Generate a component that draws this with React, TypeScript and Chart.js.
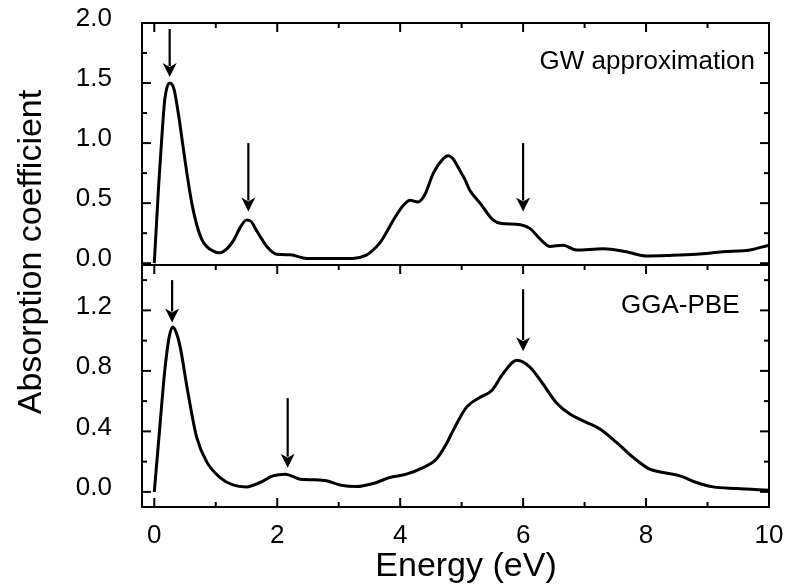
import React, { useEffect, useRef } from "react";
import { Chart, registerables } from "chart.js";

Chart.register(...registerables);

// ---- data ----
const energyGW = [0, 0.07, 0.12, 0.17, 0.25, 0.32, 0.39, 0.46, 0.53, 0.61, 0.69, 0.77, 0.85, 0.96, 1.06, 1.18, 1.29, 1.39, 1.5, 1.58, 1.66, 1.75, 1.83, 1.99, 2.21, 2.48, 2.91, 3.23, 3.45, 3.56, 3.67, 3.78, 3.89, 4.05, 4.16, 4.29, 4.4, 4.54, 4.7, 4.78, 4.86, 4.94, 5.05, 5.13, 5.3, 5.51, 5.65, 5.89, 6.11, 6.27, 6.43, 6.65, 6.87, 7.3, 7.68, 8.01, 8.39, 8.82, 9.25, 9.69, 10.0];
const absorptionGW = [0, 0.64, 1.03, 1.36, 1.5, 1.45, 1.25, 1.0, 0.75, 0.5, 0.32, 0.2, 0.14, 0.1, 0.086, 0.12, 0.19, 0.29, 0.36, 0.345, 0.275, 0.2, 0.14, 0.075, 0.07, 0.04, 0.04, 0.04, 0.067, 0.11, 0.17, 0.26, 0.36, 0.48, 0.525, 0.51, 0.57, 0.75, 0.87, 0.895, 0.87, 0.8, 0.7, 0.61, 0.5, 0.36, 0.33, 0.325, 0.29, 0.205, 0.14, 0.15, 0.11, 0.12, 0.095, 0.06, 0.065, 0.075, 0.095, 0.11, 0.15];

const energyPBE = [0, 0.09, 0.17, 0.24, 0.3, 0.36, 0.42, 0.55, 0.69, 0.85, 1.07, 1.28, 1.5, 1.72, 1.93, 2.13, 2.37, 2.59, 2.8, 3.02, 3.29, 3.56, 3.83, 4.1, 4.37, 4.59, 4.75, 4.86, 5.08, 5.3, 5.49, 5.67, 5.9, 6.11, 6.32, 6.54, 6.76, 7.03, 7.25, 7.52, 7.79, 8.06, 8.28, 8.55, 8.82, 9.09, 9.47, 10.0];
const absorptionPBE = [0, 0.43, 0.8, 1.02, 1.09, 1.05, 0.96, 0.65, 0.36, 0.2, 0.095, 0.046, 0.033, 0.062, 0.106, 0.117, 0.084, 0.08, 0.073, 0.046, 0.035, 0.055, 0.095, 0.117, 0.16, 0.217, 0.316, 0.405, 0.56, 0.625, 0.67, 0.78, 0.87, 0.825, 0.715, 0.59, 0.515, 0.46, 0.416, 0.327, 0.228, 0.15, 0.128, 0.106, 0.062, 0.033, 0.022, 0.011];

const xTickValues = [0, 2, 4, 6, 8, 10];
const xMinorTickValues = [1, 3, 5, 7, 9];
const yTopTickValues = [0, 0.5, 1.0, 1.5, 2.0];
const yTopMinorTickValues = [0.25, 0.75, 1.25, 1.75];
const yBottomTickValues = [0, 0.4, 0.8, 1.2];
const yBottomMinorTickValues = [0.2, 0.6, 1.0, 1.4];

// arrows (data coordinates): energy, start value, tip value
const arrowGWEnergy = [0.25, 1.53, 6.0];
const arrowGWFrom = [1.95, 1.0, 1.0];
const arrowGWTo = [1.55, 0.43, 0.43];
const arrowPBEEnergy = [0.29, 2.17, 6.0];
const arrowPBEFrom = [1.4, 0.62, 1.34];
const arrowPBETo = [1.12, 0.16, 0.93];

const labelGW = "GW approximation";
const labelGWPos = [9.77, 1.62];
const labelPBE = "GGA-PBE";
const labelPBEPos = [9.52, 1.18];

const xTitle = "Energy (eV)";
const yTitle = "Absorption coefficient";

const FONT = "'Liberation Sans', Arial, Helvetica, sans-serif";

const overlayPlugin = {
  id: "overlay",
  afterDatasetsDraw(chart: any) {
    const ctx = chart.ctx;
    const xs = chart.scales.x;
    const yt = chart.scales.yTop;
    const yb = chart.scales.yBottom;
    const L = chart.chartArea.left;
    const R = chart.chartArea.right;
    ctx.save();
    ctx.strokeStyle = "#000";
    ctx.fillStyle = "#000";
    ctx.lineWidth = 2;
    ctx.lineCap = "butt";
    // frames
    ctx.strokeRect(L, yt.top, R - L, yt.bottom - yt.top);
    ctx.strokeRect(L, yb.top, R - L, yb.bottom - yb.top);

    const seg = (x1: number, y1: number, x2: number, y2: number) => {
      ctx.beginPath();
      ctx.moveTo(x1, y1);
      ctx.lineTo(x2, y2);
      ctx.stroke();
    };
    const MAJ = 9;
    const MIN = 5;
    // y ticks
    const yTicks = (scale: any, major: number[], minor: number[]) => {
      major.forEach((v) => {
        const p = scale.getPixelForValue(v);
        seg(L, p, L + MAJ, p);
        seg(R, p, R - MAJ, p);
      });
      minor.forEach((v) => {
        const p = scale.getPixelForValue(v);
        seg(L, p, L + MIN, p);
        seg(R, p, R - MIN, p);
      });
    };
    yTicks(yt, yTopTickValues, yTopMinorTickValues);
    yTicks(yb, yBottomTickValues, yBottomMinorTickValues);
    // x ticks
    const xTicks = (yEdge: number, dir: number) => {
      xTickValues.forEach((v) => {
        const p = xs.getPixelForValue(v);
        seg(p, yEdge, p, yEdge + dir * MAJ);
      });
      xMinorTickValues.forEach((v) => {
        const p = xs.getPixelForValue(v);
        seg(p, yEdge, p, yEdge + dir * MIN);
      });
    };
    xTicks(yt.top, 1);
    xTicks(yb.top, 1);
    xTicks(yb.bottom, -1);

    // arrows
    const arrow = (scale: any, e: number, from: number, to: number) => {
      const px = xs.getPixelForValue(e);
      const y1 = scale.getPixelForValue(from);
      const y2 = scale.getPixelForValue(to);
      const headLen = 14;
      const headW = 7;
      ctx.lineWidth = 2.2;
      seg(px, y1, px, y2 - headLen + 3);
      ctx.beginPath();
      ctx.moveTo(px, y2);
      ctx.lineTo(px - headW, y2 - headLen);
      ctx.lineTo(px, y2 - headLen + 4);
      ctx.lineTo(px + headW, y2 - headLen);
      ctx.closePath();
      ctx.fill();
    };
    arrowGWEnergy.forEach((e, i) => arrow(yt, e, arrowGWFrom[i], arrowGWTo[i]));
    arrowPBEEnergy.forEach((e, i) => arrow(yb, e, arrowPBEFrom[i], arrowPBETo[i]));

    // panel labels
    ctx.font = `26px ${FONT}`;
    ctx.textAlign = "right";
    ctx.textBaseline = "alphabetic";
    ctx.fillText(labelGW, xs.getPixelForValue(labelGWPos[0]), yt.getPixelForValue(labelGWPos[1]));
    ctx.fillText(labelPBE, xs.getPixelForValue(labelPBEPos[0]), yb.getPixelForValue(labelPBEPos[1]));

    // axis titles
    ctx.font = `34px ${FONT}`;
    ctx.textAlign = "center";
    ctx.textBaseline = "alphabetic";
    ctx.fillText(xTitle, 466, 576);
    ctx.save();
    ctx.translate(41, 252);
    ctx.rotate(-Math.PI / 2);
    ctx.fillText(yTitle, 0, 0);
    ctx.restore();
    ctx.restore();
  },
};

function yAxis(min: number, max: number, ticks: number[]) {
  return {
    type: "linear" as const,
    position: "left" as const,
    stack: "panels",
    stackWeight: 1,
    min,
    max,
    grid: { display: false, drawTicks: false },
    border: { display: false },
    afterBuildTicks: (s: any) => {
      s.ticks = ticks.map((v) => ({ value: v }));
    },
    afterFit: (s: any) => {
      s.width = 142;
      s.paddingTop = 0;
      s.paddingBottom = 0;
    },
    ticks: {
      autoSkip: false,
      color: "#000",
      font: { family: FONT, size: 26 },
      padding: 30,
      labelOffset: -4,
      callback: (v: any) => Number(v).toFixed(1),
    },
  };
}

export default function App() {
  const ref = useRef<HTMLCanvasElement | null>(null);
  useEffect(() => {
    if (!ref.current) return;
    const chart = new Chart(ref.current, {
      type: "line",
      data: {
        datasets: [
          {
            label: labelGW,
            data: energyGW.map((x, i) => ({ x, y: absorptionGW[i] })),
            yAxisID: "yTop",
            borderColor: "#000",
            borderWidth: 3,
            pointRadius: 0,
            fill: false,
            cubicInterpolationMode: "monotone",
          },
          {
            label: labelPBE,
            data: energyPBE.map((x, i) => ({ x, y: absorptionPBE[i] })),
            yAxisID: "yBottom",
            borderColor: "#000",
            borderWidth: 3,
            pointRadius: 0,
            fill: false,
            cubicInterpolationMode: "monotone",
          },
        ],
      },
      options: {
        responsive: false,
        animation: false,
        devicePixelRatio: 1,
        layout: { padding: { left: 0, top: 23, right: 18, bottom: 0 } },
        plugins: { legend: { display: false }, tooltip: { enabled: false } },
        scales: {
          x: {
            type: "linear",
            position: "bottom",
            min: -0.2,
            max: 10,
            grid: { display: false, drawTicks: false },
            border: { display: false },
            afterBuildTicks: (s: any) => {
              s.ticks = xTickValues.map((v) => ({ value: v }));
            },
            afterFit: (s: any) => {
              s.height = 79;
              s.paddingLeft = 0;
              s.paddingRight = 0;
            },
            ticks: {
              autoSkip: false,
              maxRotation: 0,
              color: "#000",
              font: { family: FONT, size: 26 },
              padding: 13,
              callback: (v: any) => String(v),
            },
          },
          yBottom: yAxis(-0.1, 1.5, yBottomTickValues),
          yTop: yAxis(-0.015, 2.0, yTopTickValues),
        } as any,
      },
      plugins: [overlayPlugin],
    } as any);
    return () => chart.destroy();
  }, []);
  return (
    <div style={{ position: "absolute", left: 0, top: 0, width: 787, height: 586, background: "#fff" }}>
      <canvas ref={ref} width={787} height={586} style={{ display: "block" }} />
    </div>
  );
}
